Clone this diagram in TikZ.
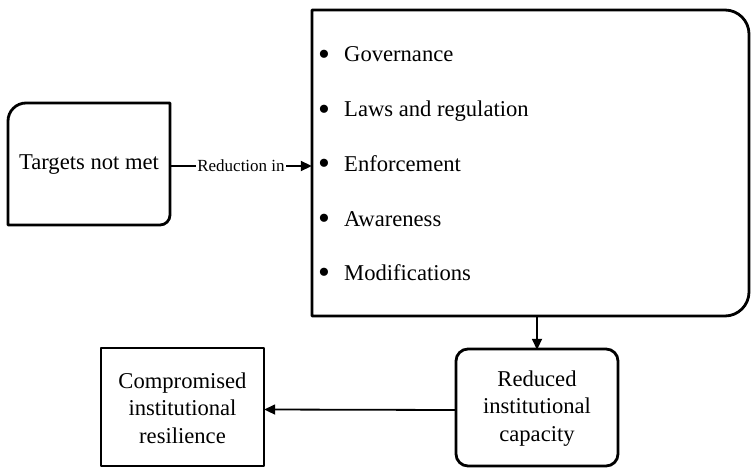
\documentclass[tikz,border=0pt]{standalone}
\usepackage{fontspec}
\setmainfont{Liberation Serif}
\usetikzlibrary{arrows.meta}
\begin{document}
\begin{tikzpicture}[x=1pt,y=-1pt,
  border/.style={line width=2.8pt, line join=round},
  txt/.style={inner sep=0pt, font=\fontsize{22.6}{27.5}\selectfont, align=center},
  item/.style={inner sep=0pt, anchor=west, text height=15pt, text depth=5pt, font=\fontsize{22.6}{27.5}\selectfont},
  conn/.style={line width=1.8pt, -{Triangle[length=11pt,width=10pt]}},
  lbl/.style={fill=white, inner sep=1pt, font=\fontsize{17}{20}\selectfont}]
\useasboundingbox (0,0) rectangle (751,468);
\newcommand{\bul}{\makebox[26pt][l]{\raisebox{-3.5pt}{\scalebox{1.5}{\textbullet}}}}

% Targets not met
\draw[border] (8,225) -- (8,121) .. controls (8,111.1) and (16.1,103) .. (26,103) -- (170,103)
  -- (170,215) .. controls (170,220.5) and (165.5,225) .. (160,225) -- cycle;
\node[txt, minimum width=162pt, minimum height=122pt] (t) at (89,165) {Targets not met};

% Big box
\draw[border] (312,10) -- (725,10) .. controls (738.2,10) and (749,20.8) .. (749,34) -- (749,292)
  .. controls (749,305.2) and (738.2,316) .. (725,316) -- (312,316) -- cycle;
\node[inner sep=0pt, minimum width=437pt, minimum height=306pt] (b) at (530.5,163) {};
\node[item] (i1) at (318,57) {\bul Governance};
\node[item] (i2) at (318,112) {\bul Laws and regulation};
\node[item] (i3) at (318,166) {\bul Enforcement};
\node[item] (i4) at (318,221) {\bul Awareness};
\node[item] (i5) at (318,275) {\bul Modifications};

% Reduced institutional capacity
\draw[border, rounded corners=12pt] (456,349) rectangle (618,466);
\node[txt, minimum width=162pt, minimum height=117pt] (r) at (537,408.5) {Reduced\\institutional\\capacity};

% Compromised institutional resilience
\draw[border] (101,348) rectangle (264,466);
\node[txt, minimum width=163pt, minimum height=118pt] (c) at (182.5,408) {Compromised\\institutional\\resilience};

% Connectors
\draw[conn] ([yshift=-1pt]t.east) -- node[lbl] {Reduction in} ([yshift=-1pt]t.east -| b.west);
\draw[conn] (r.north |- b.south) -- (r.north);
\draw[conn] ([yshift=-1.5pt]r.west) -- ([yshift=-1.5pt]c.east);
\end{tikzpicture}
\end{document}
